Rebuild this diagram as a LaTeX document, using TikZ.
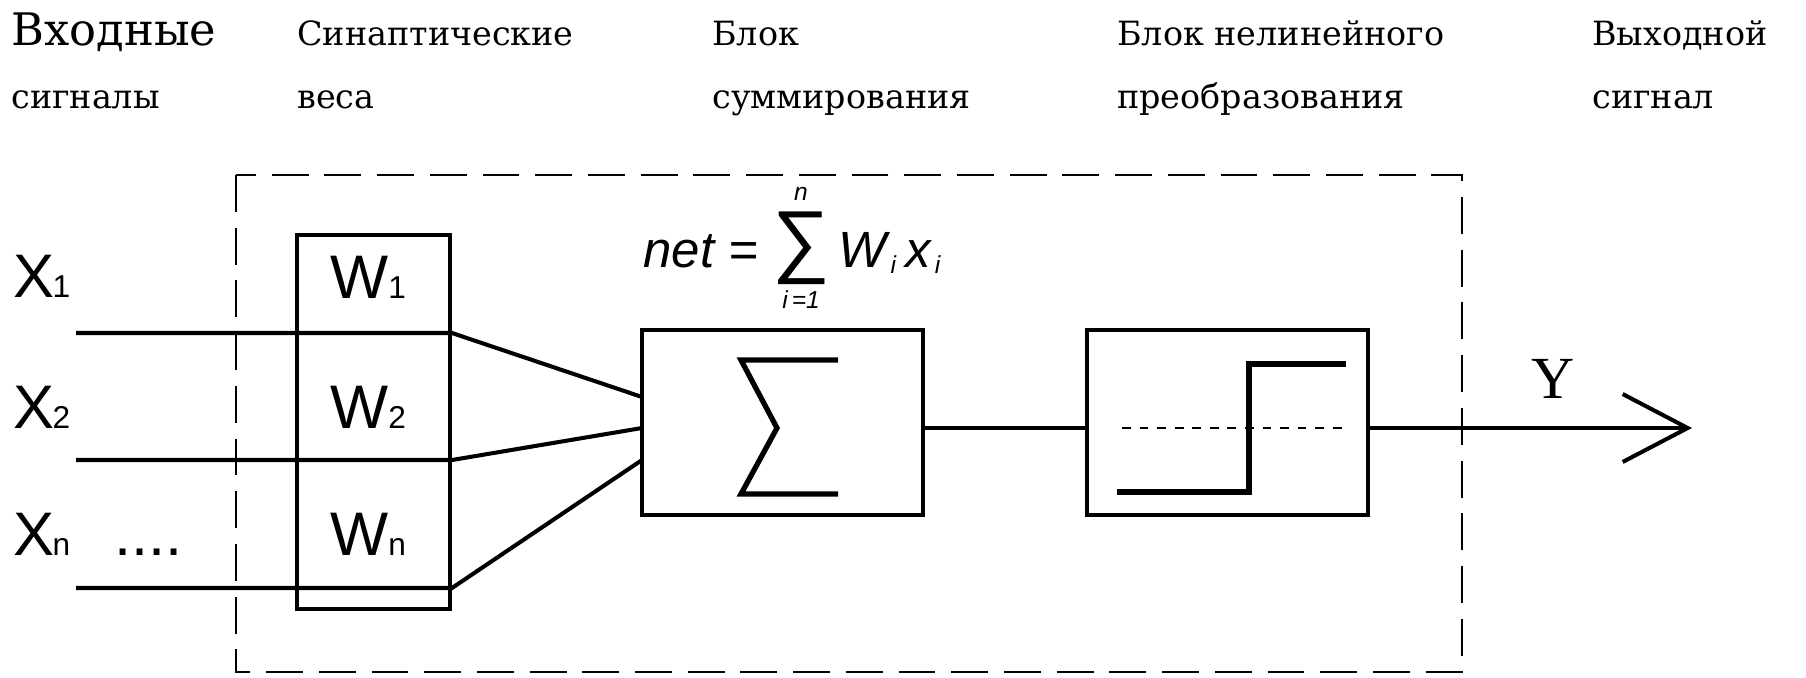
\documentclass[tikz,border=0pt]{standalone}
\usepackage{fontspec}
\setmainfont{Liberation Sans}
\newfontfamily\headfont{DejaVu Serif}
\newfontfamily\outfont{Liberation Serif}
\usetikzlibrary{arrows.meta}

\newcommand{\idx}[1]{\hbox{\fontsize{14}{14}\selectfont\itshape #1}}
\newcommand{\sub}[1]{{\fontsize{18}{18}\selectfont #1}}

\tikzset{
  head/.style={anchor=base west,inner sep=0pt,font=\headfont\fontsize{19}{24}\selectfont},
  sig/.style={anchor=base west,inner sep=0pt,font=\fontsize{35}{40}\selectfont},
  blk/.style={draw,line width=2.3pt,inner sep=0pt},
  wire/.style={line width=2.3pt},
  frame/.style={line width=1.2pt,dash pattern=on 21pt off 9pt}
}

\begin{document}
\begin{tikzpicture}[x=0.02cm,y=-0.02cm]
  \useasboundingbox (0,0) rectangle (1806,677);
  % captions
  \node[head,font=\headfont\fontsize{25.5}{30}\selectfont] (cap1) at (11,45) {Входные};
  \node[head] (cap1b) at (11,108) {сигналы};
  \node[head] (cap2) at (297,45) {Синаптические};
  \node[head] (cap2b) at (297,108) {веса};
  \node[head] (cap3) at (712,45) {Блок};
  \node[head] (cap3b) at (712,108) {суммирования};
  \node[head] (cap4) at (1117,45) {Блок нелинейного};
  \node[head] (cap4b) at (1117,108) {преобразования};
  \node[head] (cap5) at (1592,45) {Выходной};
  \node[head] (cap5b) at (1592,108) {сигнал};

  % neuron
  \draw[frame] (236,175) rectangle (1462,672);
  \node[blk,minimum width=3.06cm,minimum height=7.48cm] (wbox) at (373.5,422) {};
  \node[blk,minimum width=5.62cm,minimum height=3.7cm] (sum) at (782.5,422.5) {};
  \node[blk,minimum width=5.62cm,minimum height=3.7cm] (act) at (1227.5,422.5) {};

  \coordinate (in1) at (76,333);
  \coordinate (in2) at (76,460);
  \coordinate (in3) at (76,588);
  \coordinate (s1) at (642,397);
  \coordinate (s2) at (642,428);
  \coordinate (s3) at (642,460);
  \coordinate (out) at (1692,428);

  \draw[wire] (in1) -- (wbox.east |- in1) -- (s1);
  \draw[wire] (in2) -- (wbox.east |- in2) -- (s2);
  \draw[wire] (in3) -- (wbox.east |- in3) -- (s3);
  \draw[wire] (sum.east |- s2) -- (act.west |- s2);
  \draw[wire,-{Straight Barb[length=1.3cm,width=1.36cm]}] (act.east |- s2) -- (out);

  % sigma and step
  \draw[line width=3pt,miter limit=20] (838,360) -- (741,360) -- (777,428) -- (741,494) -- (838,494);
  \draw[line width=3pt] (1117,492) -- (1249,492) -- (1249,364) -- (1346,364);
  \draw[line width=1.2pt,dash pattern=on 5pt off 5pt] (1122,428) -- (1342,428);

  % labels
  \node[sig] (x1) at (13,297) {X\kern-1pt\sub{1}};
  \node[sig] (x2) at (13,428) {X\kern-1pt\sub{2}};
  \node[sig] (xn) at (13,555) {X\kern-1pt\sub{n}};
  \node[sig] (dots) at (114,555) {....};
  \node[sig] (w1) at (330,298) {W\sub{1}};
  \node[sig] (w2) at (330,428) {W\sub{2}};
  \node[sig] (wn) at (330,555) {W\sub{n}};
  \node[anchor=base west,inner sep=0pt,font=\outfont\fontsize{34}{36}\selectfont] (y) at (1531,398) {Y};
  \node[anchor=base west,inner sep=0pt,font=\itshape\fontsize{29}{30}\selectfont] (net) at (643,267)
    {net = $\mathop{\hbox{\upshape\fontsize{46}{46}\selectfont ∑}}\limits_{\idx{\rule{0pt}{12pt}i\,=1}}^{\idx{n\rule[-5pt]{0pt}{5pt}}}$\,W$_{\idx{\,i}}$\,x$_{\idx{\,i}}$};
\end{tikzpicture}
\end{document}
